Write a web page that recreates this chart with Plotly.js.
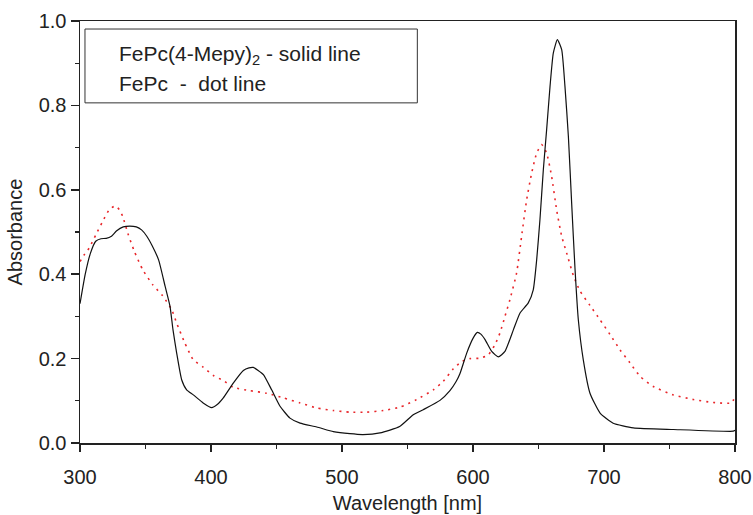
<!DOCTYPE html>
<html>
<head>
<meta charset="utf-8">
<script src="https://cdn.plot.ly/plotly-3.0.1.min.js"></script>
<style>html,body{margin:0;padding:0;background:#fff;}#chart{width:753px;height:515px;}</style>
</head>
<body>
<div id="chart"></div>
<script>
// FePc(4-Mepy)2 - solid line
const solidWavelength = [300,304,308,312,316,320,324,328,333,338,343,347,351,355,360,365,368.7,371,373.8,377.6,381.4,386.5,394,400.5,405,409.4,417,424.7,429,432.3,436,440,446.3,452.7,460.3,468,480.7,493.4,506,516,529,544,554.4,562,574.8,582.4,587,590,595.2,600.2,603.3,606,609.2,614.3,619.3,624.4,630.8,635.9,642.2,646,648.6,651.1,653.7,656.2,658.8,661.3,664.4,667.7,670.2,672.8,675.3,677.9,680.4,684.2,689.3,697,707,722.4,753,798.7,800];
const solidAbsorbance = [0.33,0.40,0.45,0.478,0.484,0.485,0.49,0.503,0.512,0.514,0.512,0.505,0.49,0.468,0.434,0.371,0.324,0.268,0.213,0.15,0.126,0.114,0.095,0.084,0.092,0.107,0.142,0.172,0.178,0.179,0.172,0.162,0.126,0.087,0.059,0.047,0.038,0.027,0.022,0.020,0.024,0.039,0.067,0.079,0.101,0.124,0.145,0.164,0.213,0.249,0.262,0.258,0.245,0.217,0.204,0.217,0.268,0.308,0.332,0.363,0.434,0.529,0.648,0.742,0.845,0.924,0.956,0.932,0.845,0.727,0.569,0.411,0.292,0.197,0.118,0.071,0.047,0.036,0.032,0.028,0.03];

// FePc - dot line
const dotWavelength = [300,303,307,312.2,317.3,322.4,327,330,332.6,336.4,341.5,347.8,355.5,363.1,370,373.8,380,386.5,394,401.8,409.4,417,429.8,442.5,455.2,468,480.7,493.4,506,518.9,531.5,544.3,557,569.7,577.3,585,591.4,597.7,605.3,611.7,616.8,620.6,624.4,628.2,633.3,637.1,641,644.8,648.6,652.4,656.2,660,663.8,667.7,671.5,676.6,681.7,689.3,697,704.6,712.2,719.8,727.5,737.6,752.9,768.2,783.4,797.4,800];
const dotAbsorbance = [0.43,0.445,0.462,0.494,0.525,0.553,0.562,0.553,0.537,0.498,0.454,0.411,0.375,0.349,0.316,0.284,0.237,0.197,0.18,0.16,0.148,0.132,0.124,0.118,0.107,0.095,0.083,0.077,0.073,0.073,0.077,0.085,0.103,0.126,0.146,0.176,0.193,0.2,0.201,0.209,0.233,0.261,0.3,0.34,0.403,0.49,0.577,0.64,0.687,0.707,0.687,0.632,0.553,0.49,0.45,0.397,0.36,0.326,0.292,0.257,0.221,0.19,0.158,0.134,0.114,0.103,0.096,0.095,0.11];

const legendLines = ['FePc(4-Mepy)<sub>2</sub> - solid line', 'FePc\u00a0\u00a0-\u00a0\u00a0dot line'];

const FONT = 'Liberation Sans, Arial, Helvetica, sans-serif';

const traces = [
  {x: dotWavelength, y: dotAbsorbance, type: 'scatter', mode: 'lines',
   line: {color: '#e8262a', width: 1.6, dash: '2px,5px', shape: 'spline', smoothing: 0.5},
   hoverinfo: 'skip', showlegend: false},
  {x: solidWavelength, y: solidAbsorbance, type: 'scatter', mode: 'lines',
   line: {color: '#111', width: 1.2, shape: 'spline', smoothing: 0.5},
   hoverinfo: 'skip', showlegend: false}
];

const layout = {
  width: 753, height: 515,
  margin: {l: 80, r: 18, t: 21, b: 72, pad: 0},
  paper_bgcolor: '#fff', plot_bgcolor: '#fff',
  font: {family: FONT, size: 20, color: '#222'},
  showlegend: false,
  xaxis: {
    range: [300, 800], dtick: 100, tick0: 300,
    showgrid: false, zeroline: false,
    showline: true, linecolor: '#222', linewidth: 1.5, mirror: true,
    ticks: 'outside', ticklen: 7, tickwidth: 1.5, tickcolor: '#222',
    ticklabelstandoff: 8,
    minor: {dtick: 50, ticks: 'outside', ticklen: 4, tickwidth: 1.2, tickcolor: '#222', showgrid: false},
    tickfont: {family: FONT, size: 20, color: '#222'},
    title: {text: 'Wavelength [nm]', font: {family: FONT, size: 20, color: '#222'}, standoff: 9}
  },
  yaxis: {
    range: [0, 1.0], dtick: 0.2, tick0: 0, tickformat: '.1f',
    showgrid: false, zeroline: false,
    showline: true, linecolor: '#222', linewidth: 1.5, mirror: true,
    ticks: 'outside', ticklen: 8, tickwidth: 1.5, tickcolor: '#222',
    minor: {dtick: 0.1, ticks: 'outside', ticklen: 4, tickwidth: 1.2, tickcolor: '#222', showgrid: false},
    tickfont: {family: FONT, size: 20, color: '#222'},
    title: {text: 'Absorbance', font: {family: FONT, size: 20, color: '#222'}, standoff: 10}
  },
  shapes: [
    {type: 'rect', xref: 'x', yref: 'y', x0: 303.8, x1: 557.5, y0: 0.806, y1: 0.981,
     line: {color: '#333', width: 1}, fillcolor: 'rgba(255,255,255,0)'}
  ],
  annotations: [
    {xref: 'x', yref: 'y', x: 328.5, y: 0.92, xanchor: 'left', yanchor: 'middle',
     text: legendLines[0], showarrow: false, font: {family: FONT, size: 21, color: '#222'}},
    {xref: 'x', yref: 'y', x: 328.5, y: 0.852, xanchor: 'left', yanchor: 'middle',
     text: legendLines[1], showarrow: false, font: {family: FONT, size: 21, color: '#222'}}
  ]
};

Plotly.newPlot('chart', traces, layout, {staticPlot: true, displayModeBar: false});
</script>
</body>
</html>
